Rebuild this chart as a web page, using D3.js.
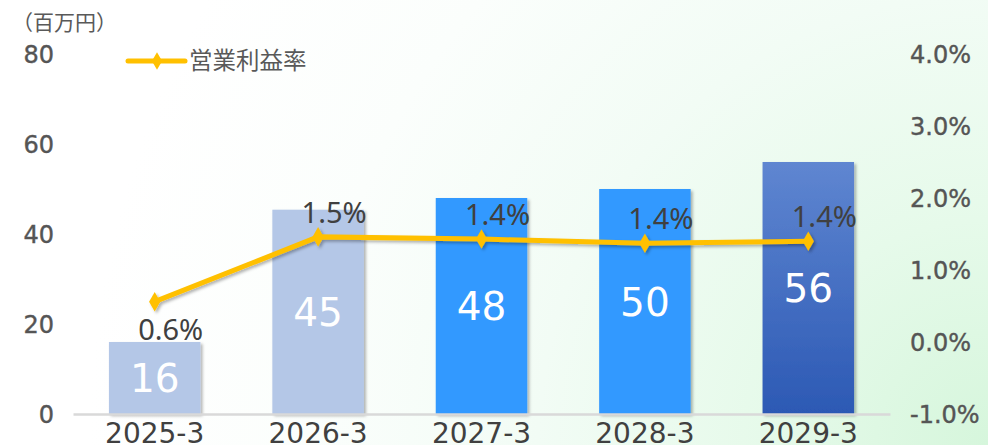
<!DOCTYPE html>
<html>
<head>
<meta charset="utf-8" />
<title>営業利益率</title>
<script src="https://cdnjs.cloudflare.com/ajax/libs/d3/7.8.5/d3.min.js"></script>
<style>
  body { margin: 0; background: #fff; }
  svg { display: block; }
</style>
</head>
<body>
<svg id="chart" width="988" height="445"></svg>
<script>
  // data
  let periods = ['2025-3', '2026-3', '2027-3', '2028-3', '2029-3']
  let profit = [16, 45.4, 48, 50, 56]          // 百万円
  let margin = [0.0056, 0.0146, 0.0143, 0.0137, 0.014]  // 営業利益率
  let leftTicks = [0, 20, 40, 60, 80]
  let rightTicks = [-0.01, 0, 0.01, 0.02, 0.03, 0.04]
  let barFills = ['#b4c7e7', '#b4c7e7', '#3399ff', '#3399ff', 'url(#lastBar)']

  let svg = d3.select('#chart')
  let defs = svg.append('defs')

  let bg = defs.append('radialGradient').attr('id', 'bg').attr('gradientUnits', 'userSpaceOnUse')
    .attr('cx', 988).attr('cy', 445).attr('r', 900)
  bg.append('stop').attr('offset', '0%').attr('stop-color', '#d6f6dc')
  bg.append('stop').attr('offset', '25%').attr('stop-color', '#e6faea')
  bg.append('stop').attr('offset', '50%').attr('stop-color', '#f2fcf5')
  bg.append('stop').attr('offset', '75%').attr('stop-color', '#fbfefc')
  bg.append('stop').attr('offset', '100%').attr('stop-color', '#ffffff')

  let lg = defs.append('linearGradient').attr('id', 'lastBar')
    .attr('x1', 0).attr('y1', 0).attr('x2', 0).attr('y2', 1)
  lg.append('stop').attr('offset', '0%').attr('stop-color', '#5f86d1')
  lg.append('stop').attr('offset', '100%').attr('stop-color', '#2c59b4')

  let sh = defs.append('filter').attr('id', 'shadow')
    .attr('x', '-20%').attr('y', '-20%').attr('width', '140%').attr('height', '140%')
  sh.append('feDropShadow').attr('dx', 2).attr('dy', 2).attr('stdDeviation', 1.5)
    .attr('flood-color', '#000').attr('flood-opacity', 0.3)

  svg.append('rect').attr('width', 988).attr('height', 445).attr('fill', 'url(#bg)')

  let x = d3.scaleBand().domain(periods).range([73, 890]).paddingInner(0.44).paddingOuter(0.22)
  let y = d3.scaleLinear().domain([0, 80]).range([414, 54])
  let y2 = d3.scaleLinear().domain([-0.01, 0.04]).range([414, 54])
  let pct = d => d3.format('.1%')(d).replace('−', '-')

  // left axis
  let yAxis = d3.axisLeft(y).tickValues(leftTicks).tickSize(0).tickPadding(0)
  let gy = svg.append('g').attr('transform', 'translate(54,0)').call(yAxis)
  gy.select('.domain').remove()
  gy.selectAll('text').attr('font-family', 'DejaVu Sans').attr('font-size', 24)
    .attr('fill', '#555').attr('stroke', '#555').attr('stroke-width', 0.4).attr('dy', '0.36em')

  // right axis
  let y2Axis = d3.axisRight(y2).tickValues(rightTicks).tickSize(0).tickPadding(0)
    .tickFormat(pct)
  let gy2 = svg.append('g').attr('transform', 'translate(910,0)').call(y2Axis)
  gy2.select('.domain').remove()
  gy2.selectAll('text').attr('font-family', 'DejaVu Sans').attr('font-size', 24)
    .attr('fill', '#555').attr('stroke', '#555').attr('stroke-width', 0.4).attr('dy', '0.36em')

  svg.append('text').attr('x', 12).attr('y', 30).text('（百万円）')
    .attr('font-family', 'Noto Sans CJK JP').attr('font-size', 21).attr('fill', '#595959')

  // bars
  svg.append('g').selectAll('rect').data(profit).join('rect')
    .attr('x', (d, i) => x(periods[i]))
    .attr('y', d => y(d))
    .attr('width', x.bandwidth())
    .attr('height', d => y(0) - y(d))
    .attr('fill', (d, i) => barFills[i])
    .attr('filter', 'url(#shadow)')

  // x axis
  let xAxis = d3.axisBottom(x).tickSize(0).tickPadding(0)
  let gx = svg.append('g').attr('transform', 'translate(0,414)').call(xAxis)
  gx.select('.domain').attr('stroke', '#d9d9d9').attr('stroke-width', 2.5)
  gx.selectAll('text').attr('font-family', 'DejaVu Sans').attr('font-size', 28)
    .attr('fill', '#404040').attr('dy', '1.05em')

  svg.append('g').selectAll('text').data(profit).join('text')
    .attr('x', (d, i) => x(periods[i]) + x.bandwidth() / 2)
    .attr('y', d => (y(d) + y(0)) / 2)
    .attr('dy', '0.36em')
    .attr('text-anchor', 'middle')
    .attr('font-family', 'DejaVu Sans').attr('font-size', 39).attr('fill', '#fff')
    .text(d => d3.format('.0f')(d))

  // margin line
  let cx = (d, i) => x(periods[i]) + x.bandwidth() / 2
  let line = d3.line().x(cx).y(d => y2(d))
  let lineG = svg.append('g').attr('filter', 'url(#shadow)')
  lineG.append('path').datum(margin).attr('d', line)
    .attr('fill', 'none').attr('stroke', '#ffc000').attr('stroke-width', 5)
  lineG.selectAll('path.pt').data(margin).join('path').attr('class', 'pt')
    .attr('d', d3.symbol(d3.symbolDiamond, 110))
    .attr('transform', (d, i) => 'translate(' + cx(d, i) + ',' + y2(d) + ')')
    .attr('fill', '#ffc000')

  svg.append('g').selectAll('text').data(margin).join('text')
    .attr('x', (d, i) => cx(d, i) + 16)
    .attr('y', (d, i) => i === 0 ? y2(d) + 38 : y2(d) - 14)
    .attr('text-anchor', 'middle')
    .attr('font-family', 'Noto Sans').attr('font-size', 29).attr('fill', '#404040')
    .text(pct)

  // legend
  let leg = svg.append('g').attr('transform', 'translate(128,61)')
  leg.append('line').attr('x1', 0).attr('x2', 57).attr('stroke', '#ffc000')
    .attr('stroke-width', 5).attr('stroke-linecap', 'round')
  leg.append('path').attr('d', d3.symbol(d3.symbolDiamond, 90))
    .attr('transform', 'translate(29,0)').attr('fill', '#ffc000')
  leg.append('text').attr('x', 61).attr('y', 0).attr('dy', '0.36em')
    .attr('font-family', 'Noto Sans CJK JP').attr('font-size', 23.5).attr('fill', '#595959')
    .text('営業利益率')
</script>
</body>
</html>
